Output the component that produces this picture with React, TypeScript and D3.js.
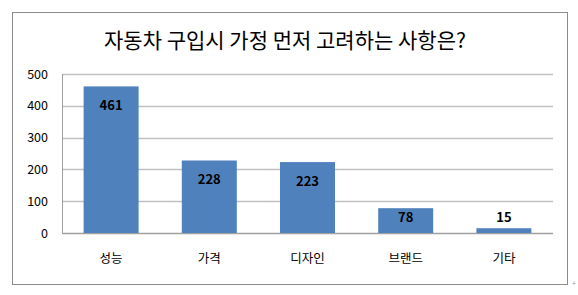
import React from "react";
import * as d3 from "d3";

const categories = ["성능", "가격", "디자인", "브랜드", "기타"];
const values = [461, 228, 223, 78, 15];
const yTicks = [0, 100, 200, 300, 400, 500];
const title = "자동차 구입시 가정 먼저 고려하는 사항은?";

export default function App() {
  const W = 578, H = 295;
  const left = 62, right = 553, top = 74, bottom = 233;
  const x = d3.scaleBand<string>().domain(categories).range([left, right]).paddingInner(0.44).paddingOuter(0.22);
  const y = d3.scaleLinear().domain([0, 500]).range([bottom, top]);
  const font = "'Noto Sans CJK KR', 'Noto Sans', sans-serif";
  return (
    <svg width={W} height={H} style={{ position: "absolute", left: 0, top: 0, background: "#fff" }}>
      <rect x={12.5} y={12.5} width={555} height={272} fill="#fff" stroke="#8c8c8c" strokeWidth={1} />
      <text x={W / 2 - 4} y={48} textAnchor="middle" fontFamily={font} fontSize={21} fill="#000">{title}</text>
      {yTicks.map((t) => (
        <g key={t}>
          <line x1={left} x2={right} y1={Math.round(y(t)) + 0.5} y2={Math.round(y(t)) + 0.5} stroke={t === 0 ? "#a0a0a0" : "#c0c0c0"} strokeWidth={1.3} />
          <text x={48} y={y(t) + 4.5} textAnchor="end" fontFamily={font} fontSize={12.5} fill="#000">{t}</text>
        </g>
      ))}
      <line x1={left + 0.5} x2={left + 0.5} y1={top} y2={bottom} stroke="#a0a0a0" strokeWidth={1} />
      {categories.map((c, i) => {
        const v = values[i];
        const bx = x(c)!;
        const bw = x.bandwidth();
        const by = y(v);
        const ly = Math.min(by + 19, bottom - 16);
        return (
          <g key={c}>
            <rect x={bx} y={by} width={bw} height={bottom - by} fill="#4f81bd" />
            <text x={bx + bw / 2} y={ly + 5} textAnchor="middle" fontFamily={font} fontSize={13} fontWeight="bold" fill="#000">{v}</text>
            <text x={bx + bw / 2} y={263} textAnchor="middle" fontFamily={font} fontSize={12.5} fill="#000">{c}</text>
          </g>
        );
      })}
      <text x={574} y={286} textAnchor="middle" fontFamily={font} fontSize={7} fill="#999">+</text>
    </svg>
  );
}
